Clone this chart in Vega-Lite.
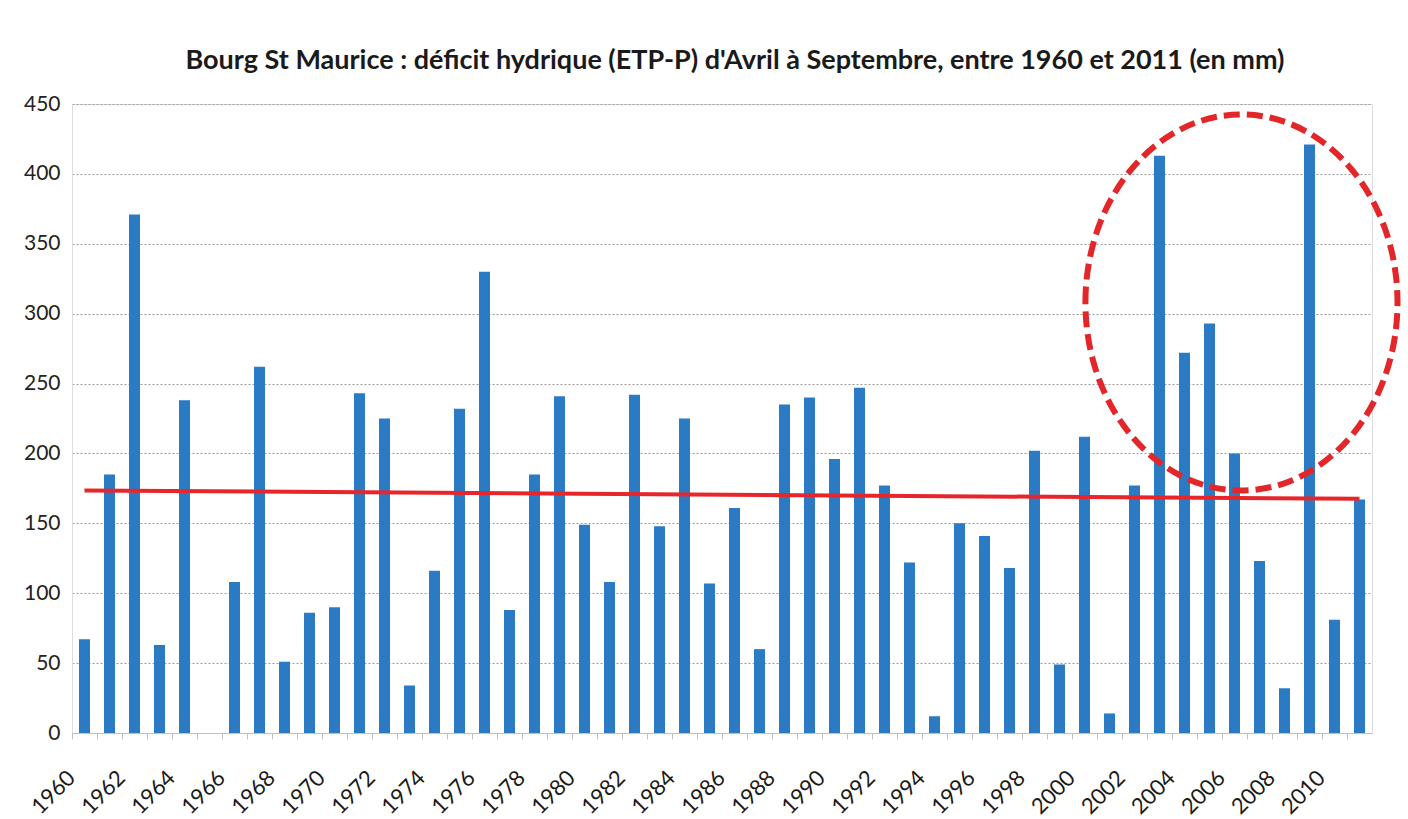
{
  "$schema": "https://vega.github.io/schema/vega-lite/v6.json",
  "autosize": {"type": "none"},
  "width": 1300,
  "height": 629,
  "padding": {"left": 72, "top": 104, "right": 36, "bottom": 86},
  "background": "white",
  "title": {
    "text": "Bourg St Maurice : déficit hydrique (ETP-P) d'Avril à Septembre, entre 1960 et 2011 (en mm)",
    "font": "Lato",
    "fontSize": 27,
    "fontWeight": "bold",
    "color": "#1a1a1a",
    "anchor": "middle",
    "dx": 13,
    "offset": 18
  },
  "datasets": {
    "bars": [
      {"year": 1960, "value": 67}, {"year": 1961, "value": 185}, {"year": 1962, "value": 371},
      {"year": 1963, "value": 63}, {"year": 1964, "value": 238}, {"year": 1965, "value": 0},
      {"year": 1966, "value": 108}, {"year": 1967, "value": 262}, {"year": 1968, "value": 51},
      {"year": 1969, "value": 86}, {"year": 1970, "value": 90}, {"year": 1971, "value": 243},
      {"year": 1972, "value": 225}, {"year": 1973, "value": 34}, {"year": 1974, "value": 116},
      {"year": 1975, "value": 232}, {"year": 1976, "value": 330}, {"year": 1977, "value": 88},
      {"year": 1978, "value": 185}, {"year": 1979, "value": 241}, {"year": 1980, "value": 149},
      {"year": 1981, "value": 108}, {"year": 1982, "value": 242}, {"year": 1983, "value": 148},
      {"year": 1984, "value": 225}, {"year": 1985, "value": 107}, {"year": 1986, "value": 161},
      {"year": 1987, "value": 60}, {"year": 1988, "value": 235}, {"year": 1989, "value": 240},
      {"year": 1990, "value": 196}, {"year": 1991, "value": 247}, {"year": 1992, "value": 177},
      {"year": 1993, "value": 122}, {"year": 1994, "value": 12}, {"year": 1995, "value": 150},
      {"year": 1996, "value": 141}, {"year": 1997, "value": 118}, {"year": 1998, "value": 202},
      {"year": 1999, "value": 49}, {"year": 2000, "value": 212}, {"year": 2001, "value": 14},
      {"year": 2002, "value": 177}, {"year": 2003, "value": 413}, {"year": 2004, "value": 272},
      {"year": 2005, "value": 293}, {"year": 2006, "value": 200}, {"year": 2007, "value": 123},
      {"year": 2008, "value": 32}, {"year": 2009, "value": 421}, {"year": 2010, "value": 81},
      {"year": 2011, "value": 167}
    ],
    "trend": [
      {"year": 1960, "value": 173.5},
      {"year": 2011, "value": 167.5}
    ],
    "highlight": [
      {"year": 2006, "value": 308}
    ]
  },
  "layer": [
    {
      "data": {"name": "bars"},
      "mark": {"type": "bar", "color": "#2b7bc4", "width": {"band": 0.44}},
      "encoding": {
        "x": {
          "field": "year",
          "type": "ordinal",
          "scale": {"paddingInner": 0, "paddingOuter": 0},
          "axis": {
            "title": null,
            "bandPosition": 0,
            "labelExpr": "datum.value % 2 == 0 ? datum.label : ''",
            "labelOverlap": false,
            "labelAngle": -45,
            "labelAlign": "right",
            "labelBaseline": "top",
            "labelPadding": 28,
            "labelOffset": -20,
            "labelFont": "Lato",
            "labelFontSize": 22,
            "labelColor": "#1a1a1a",
            "ticks": true,
            "tickSize": 6,
            "tickColor": "#bfbfbf",
            "domainColor": "#bfbfbf",
            "grid": false
          }
        },
        "y": {
          "field": "value",
          "type": "quantitative",
          "scale": {"domain": [0, 450], "nice": false},
          "axis": {
            "title": null,
            "values": [0, 50, 100, 150, 200, 250, 300, 350, 400, 450],
            "grid": true,
            "gridDash": [2, 2],
            "gridColor": "#9a9a9a",
            "gridWidth": 1,
            "ticks": false,
            "domain": true,
            "domainColor": "#dddddd",
            "labelPadding": 12,
            "labelFont": "Lato",
            "labelFontSize": 21,
            "labelColor": "#222222"
          }
        }
      }
    },
    {
      "data": {"name": "trend"},
      "mark": {"type": "line", "color": "#e6262b", "strokeWidth": 4},
      "encoding": {
        "x": {"field": "year", "type": "ordinal"},
        "y": {"field": "value", "type": "quantitative"}
      }
    },
    {
      "data": {"name": "highlight"},
      "mark": {
        "type": "point",
        "shape": "M -0.793 0 C -0.793 -0.552 -0.421 -1 0.037 -1 C 0.495 -1 0.867 -0.552 0.867 0 C 0.867 0.552 0.495 1 0.037 1 C -0.421 1 -0.793 0.552 -0.793 0 Z",
        "size": 141376,
        "filled": false,
        "opacity": 1,
        "stroke": "#e3262a",
        "strokeWidth": 6,
        "strokeDash": [16, 7]
      },
      "encoding": {
        "x": {"field": "year", "type": "ordinal"},
        "y": {"field": "value", "type": "quantitative"}
      }
    }
  ]
}
